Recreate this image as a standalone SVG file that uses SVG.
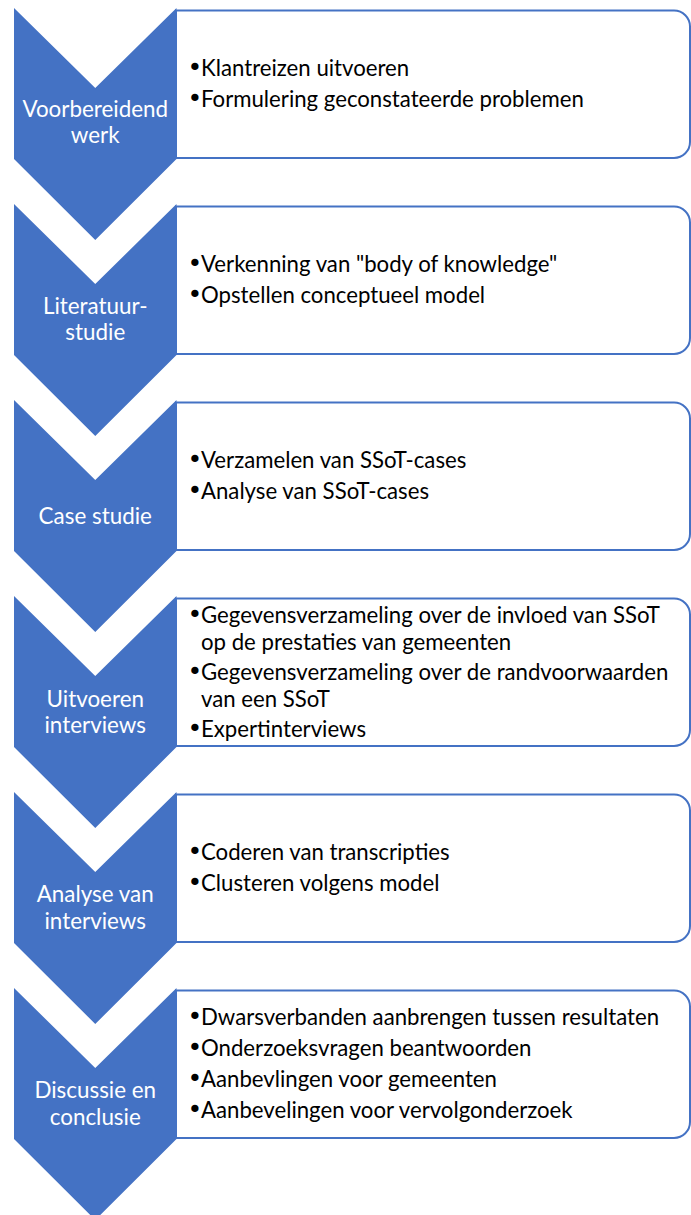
<svg xmlns="http://www.w3.org/2000/svg" xmlns:xlink="http://www.w3.org/1999/xlink" width="691" height="1215" viewBox="0 0 691 1215">
  <style>
    .chev { fill: #4472C4; }
    .box { fill: #FFFFFF; stroke: #4472C4; stroke-width: 2; }
    .lbl { font-family: Lato, "Open Sans", "Liberation Sans", sans-serif; font-size: 22.4px; fill: #FFFFFF; text-anchor: middle; }
    .item { font-family: Lato, "Open Sans", "Liberation Sans", sans-serif; font-size: 22.2px; fill: #000000; }
    .dot { font-family: "DejaVu Sans", sans-serif; font-size: 25px; }
  </style>
  <defs>
    <!-- downward chevron, local origin at its top edge -->
    <path id="chevron" d="M14,0 L95.25,80 L176.5,0 V151 L95.25,232 L14,151 Z"/>
    <!-- text panel: square left corners, rounded right corners -->
    <path id="panel" d="M176,2.5 H674 A16,16 0 0 1 690,18.5 V134 A16,16 0 0 1 674,150 H176 Z"/>
  </defs>

  <g id="step1" transform="translate(0,8)">
    <use xlink:href="#panel" href="#panel" class="box"/>
    <use xlink:href="#chevron" href="#chevron" class="chev"/>
    <text class="lbl"><tspan x="95.25" y="109">Voorbereidend</tspan><tspan x="95.25" y="135">werk</tspan></text>
    <text class="item"><tspan class="dot" x="187.5" y="67.5">•</tspan><tspan x="201" y="67.5">Klantreizen uitvoeren</tspan></text>
    <text class="item"><tspan class="dot" x="187.5" y="98.5">•</tspan><tspan x="201" y="98.5">Formulering geconstateerde problemen</tspan></text>
  </g>

  <g id="step2" transform="translate(0,204)">
    <use xlink:href="#panel" href="#panel" class="box"/>
    <use xlink:href="#chevron" href="#chevron" class="chev"/>
    <text class="lbl"><tspan x="95.25" y="109.5">Literatuur-</tspan><tspan x="95.25" y="136">studie</tspan></text>
    <text class="item"><tspan class="dot" x="187.5" y="68">•</tspan><tspan x="201" y="68">Verkenning van "body of knowledge"</tspan></text>
    <text class="item"><tspan class="dot" x="187.5" y="99">•</tspan><tspan x="201" y="99">Opstellen conceptueel model</tspan></text>
  </g>

  <g id="step3" transform="translate(0,400)">
    <use xlink:href="#panel" href="#panel" class="box"/>
    <use xlink:href="#chevron" href="#chevron" class="chev"/>
    <text class="lbl" x="95.25" y="124">Case studie</text>
    <text class="item"><tspan class="dot" x="187.5" y="68">•</tspan><tspan x="201" y="68">Verzamelen van SSoT-cases</tspan></text>
    <text class="item"><tspan class="dot" x="187.5" y="98.5">•</tspan><tspan x="201" y="98.5">Analyse van SSoT-cases</tspan></text>
  </g>

  <g id="step4" transform="translate(0,596)">
    <use xlink:href="#panel" href="#panel" class="box"/>
    <use xlink:href="#chevron" href="#chevron" class="chev"/>
    <text class="lbl"><tspan x="95.25" y="111">Uitvoeren</tspan><tspan x="95.25" y="136.5">interviews</tspan></text>
    <text class="item"><tspan class="dot" x="187.5" y="26.5">•</tspan><tspan x="201" y="26.5">Gegevensverzameling over de invloed van SSoT</tspan><tspan x="201" y="54">op de prestaties van gemeenten</tspan></text>
    <text class="item"><tspan class="dot" x="187.5" y="83.5">•</tspan><tspan x="201" y="83.5">Gegevensverzameling over de randvoorwaarden</tspan><tspan x="201" y="111">van een SSoT</tspan></text>
    <text class="item"><tspan class="dot" x="187.5" y="140.5">•</tspan><tspan x="201" y="140.5">Expertinterviews</tspan></text>
  </g>

  <g id="step5" transform="translate(0,792)">
    <use xlink:href="#panel" href="#panel" class="box"/>
    <use xlink:href="#chevron" href="#chevron" class="chev"/>
    <text class="lbl"><tspan x="95.25" y="110">Analyse van</tspan><tspan x="95.25" y="136.5">interviews</tspan></text>
    <text class="item"><tspan class="dot" x="187.5" y="68">•</tspan><tspan x="201" y="68">Coderen van transcripties</tspan></text>
    <text class="item"><tspan class="dot" x="187.5" y="99">•</tspan><tspan x="201" y="99">Clusteren volgens model</tspan></text>
  </g>

  <g id="step6" transform="translate(0,988)">
    <use xlink:href="#panel" href="#panel" class="box"/>
    <use xlink:href="#chevron" href="#chevron" class="chev"/>
    <text class="lbl"><tspan x="95.25" y="110">Discussie en</tspan><tspan x="95.25" y="136.5">conclusie</tspan></text>
    <text class="item"><tspan class="dot" x="187.5" y="37">•</tspan><tspan x="201" y="37">Dwarsverbanden aanbrengen tussen resultaten</tspan></text>
    <text class="item"><tspan class="dot" x="187.5" y="68">•</tspan><tspan x="201" y="68">Onderzoeksvragen beantwoorden</tspan></text>
    <text class="item"><tspan class="dot" x="187.5" y="99">•</tspan><tspan x="201" y="99">Aanbevlingen voor gemeenten</tspan></text>
    <text class="item"><tspan class="dot" x="187.5" y="130">•</tspan><tspan x="201" y="130">Aanbevelingen voor vervolgonderzoek</tspan></text>
  </g>
</svg>
